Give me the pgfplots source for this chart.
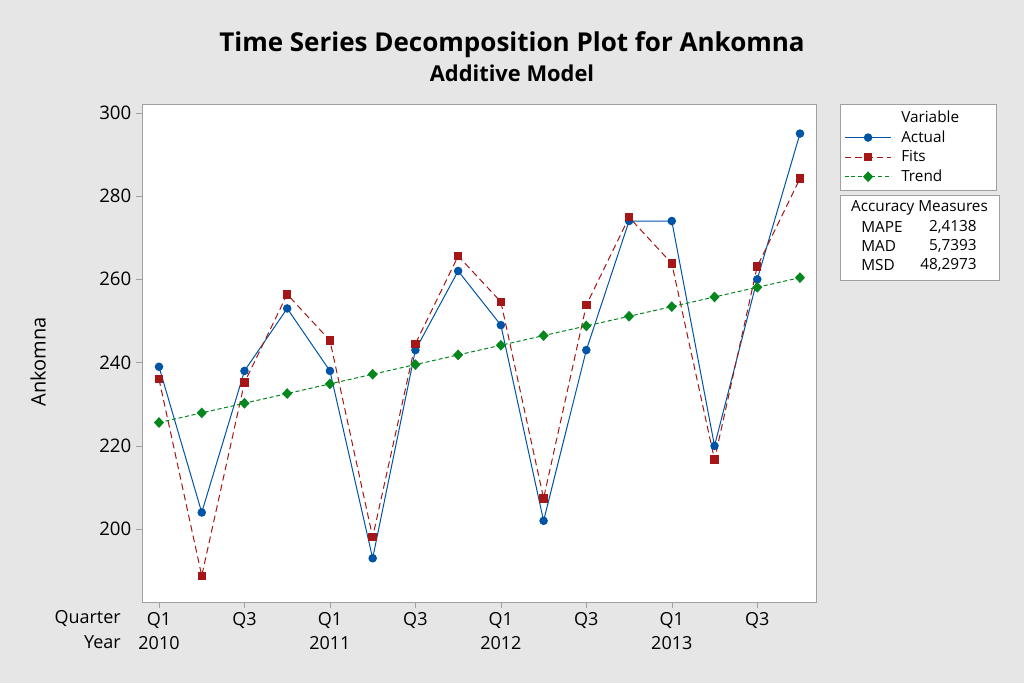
\documentclass[border=0pt]{standalone}
\usepackage{fontspec}
\setmainfont{Open Sans}
\usepackage{pgfplots}
\pgfplotsset{compat=1.18}
\definecolor{bg}{RGB}{230,230,230}
\definecolor{frame}{RGB}{160,160,160}
\definecolor{actualblue}{RGB}{0,84,166}
\definecolor{fitsred}{RGB}{165,22,22}
\definecolor{trendgreen}{RGB}{5,135,30}
\begin{document}
\begin{tikzpicture}
\begin{scope}[x=0.75pt,y=-0.75pt]
\fill[bg] (0,0) rectangle (1024,683);
\node[font=\bfseries\fontsize{19.5}{23}\selectfont] at (512,45) {Time Series Decomposition Plot for Ankomna};
\node[font=\bfseries\fontsize{16.4}{19}\selectfont] at (512,73) {Additive Model};
\node[rotate=90,font=\fontsize{15}{18}\selectfont] at (38,362) {Ankomna};
\node[anchor=east,font=\fontsize{13.5}{16}\selectfont,inner sep=0pt] at (121,618) {Quarter};
\node[anchor=east,font=\fontsize{13.5}{16}\selectfont,inner sep=0pt] at (121,642) {Year};
\draw[frame,fill=white] (840,195) rectangle (999,280);
\node[font=\fontsize{11.5}{14}\selectfont] at (919.5,208) {Accuracy Measures};
\node[anchor=west,font=\fontsize{11.5}{14}\selectfont,inner sep=0pt] at (861,227) {MAPE};
\node[anchor=west,font=\fontsize{11.5}{14}\selectfont,inner sep=0pt] at (861,246) {MAD};
\node[anchor=west,font=\fontsize{11.5}{14}\selectfont,inner sep=0pt] at (861,265) {MSD};
\node[anchor=east,font=\fontsize{11.5}{14}\selectfont,inner sep=0pt] at (977,227) {2,4138};
\node[anchor=east,font=\fontsize{11.5}{14}\selectfont,inner sep=0pt] at (977,246) {5,7393};
\node[anchor=east,font=\fontsize{11.5}{14}\selectfont,inner sep=0pt] at (977,265) {48,2973};
\end{scope}
\begin{axis}[
  at={(106.5pt,-451.5pt)}, anchor=south west,
  width=505.5pt, height=373.5pt, scale only axis,
  xmin=0.602, xmax=16.375, ymin=182.5, ymax=302.1,
  axis line style={frame},
  tick style={frame},
  tick align=outside, major tick length=4.5pt,
  xtick pos=bottom, ytick pos=left,
  xtick={1,3,5,7,9,11,13,15},
  xticklabels={{Q1\\2010},Q3,{Q1\\2011},Q3,{Q1\\2012},Q3,{Q1\\2013},Q3},
  xticklabel style={align=center, font=\fontsize{13.5}{18}\selectfont},
  ytick={200,220,240,260,280,300},
  yticklabel style={font=\fontsize{14}{16}\selectfont},
  /pgf/number format/assume math mode=true,
  axis background/.style={fill=white},
  legend cell align=left,
  legend image code/.code={\path (0pt,0pt) (40pt,0pt); \draw[mark repeat=2,mark phase=2] plot coordinates {(0pt,0pt) (17.5pt,0pt) (35pt,0pt)};},
  legend style={at={(1.0356,1)}, anchor=north west, draw=frame, fill=white,
    font=\fontsize{11.5}{14}\selectfont, row sep=0.6pt, inner sep=3pt,
    nodes={text width=66pt}},
]
\addlegendimage{empty legend}
\addlegendentry{Variable}
\addplot[color=actualblue, line width=0.75pt, mark=*, mark size=2.8pt, mark options={fill=actualblue, draw=actualblue}]
coordinates {(1,239) (2,204) (3,238) (4,253) (5,238) (6,193) (7,243) (8,262) (9,249) (10,202) (11,243) (12,274) (13,274) (14,220) (15,260) (16,295)};
\addlegendentry{Actual}
\addplot[color=fitsred, line width=0.75pt, dash pattern=on 5pt off 3pt, mark=square*, mark size=2.8pt, mark options={solid, fill=fitsred, draw=fitsred}]
coordinates {(1,236.0) (2,188.8) (3,235.2) (4,256.4) (5,245.3) (6,198.1) (7,244.5) (8,265.6) (9,254.6) (10,207.4) (11,253.8) (12,274.9) (13,263.8) (14,216.7) (15,263.1) (16,284.2)};
\addlegendentry{Fits}
\addplot[color=trendgreen, line width=0.75pt, dash pattern=on 3pt off 2pt, mark=diamond*, mark size=3.5pt, mark options={solid, xscale=1.25, fill=trendgreen, draw=trendgreen}]
coordinates {(1,225.60) (2,227.92) (3,230.24) (4,232.56) (5,234.88) (6,237.20) (7,239.52) (8,241.84) (9,244.16) (10,246.48) (11,248.80) (12,251.12) (13,253.44) (14,255.76) (15,258.08) (16,260.40)};
\addlegendentry{Trend}
\end{axis}
\end{tikzpicture}
\end{document}
